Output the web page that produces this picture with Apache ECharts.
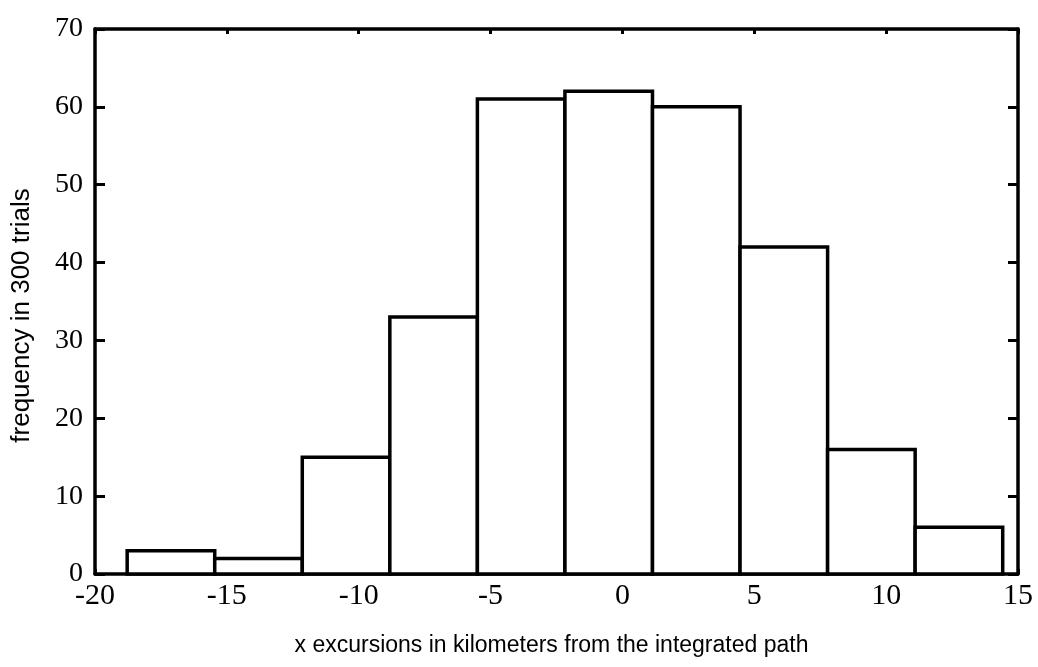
<!DOCTYPE html>
<html><head><meta charset="utf-8">
<script src="https://cdn.jsdelivr.net/npm/echarts@6/dist/echarts.min.js"></script>
<style>html,body{margin:0;padding:0;background:#fff}#c{width:1038px;height:667px}</style>
</head><body><div id="c"></div>
<script>
// histogram bin edges (km) and counts
const binStart = [-18.78, -15.46, -12.14, -8.82, -5.50, -2.18, 1.14, 4.46, 7.78, 11.10];
const binEnd   = [-15.46, -12.14, -8.82, -5.50, -2.18, 1.14, 4.46, 7.78, 11.10, 14.42];
const counts   = [3, 2, 15, 33, 61, 62, 60, 42, 16, 6];
const xTickValues = [-20, -15, -10, -5, 0, 5, 10, 15];
const yTickValues = [0, 10, 20, 30, 40, 50, 60, 70];
const xTitle = 'x excursions in kilometers from the integrated path';
const yTitle = 'frequency in 300 trials';

const data = binStart.map((s, i) => [s, binEnd[i], counts[i]]);
const chart = echarts.init(document.getElementById('c'), null, {renderer: 'canvas'});
const axisLine = {show: true, onZero: false, lineStyle: {color: '#000', width: 3.5}};
const serif = '"Liberation Serif", "DejaVu Serif", serif';
const sans = '"Liberation Sans", Arial, sans-serif';
chart.setOption({
  animation: false,
  backgroundColor: '#fff',
  grid: {left: 95, right: 20, top: 29, bottom: 93, containLabel: false},
  xAxis: [{
    type: 'value', min: xTickValues[0], max: xTickValues[xTickValues.length - 1], interval: 5,
    position: 'bottom', axisLine,
    axisTick: {show: true, inside: true, length: 5, lineStyle: {color: '#000', width: 3}},
    axisLabel: {color: '#000', fontFamily: serif, fontSize: 30, margin: 7,
      formatter: v => String(v)},
    splitLine: {show: false},
    name: xTitle, nameLocation: 'middle', nameGap: 60,
    nameTextStyle: {color: '#000', fontFamily: sans, fontSize: 23, padding: [0, 10, 0, 0]}
  }, {
    type: 'value', min: xTickValues[0], max: xTickValues[xTickValues.length - 1], interval: 5,
    position: 'top', axisLine,
    axisTick: {show: true, inside: true, length: 5, lineStyle: {color: '#000', width: 3}},
    axisLabel: {show: false}, splitLine: {show: false}
  }],
  yAxis: [{
    type: 'value', min: yTickValues[0], max: yTickValues[yTickValues.length - 1], interval: 10,
    position: 'left', axisLine,
    axisTick: {show: true, inside: true, length: 10, lineStyle: {color: '#000', width: 3}},
    axisLabel: {color: '#000', fontFamily: serif, fontSize: 28, margin: 12},
    splitLine: {show: false},
    name: yTitle, nameLocation: 'middle', nameGap: 60, nameRotate: 90,
    nameTextStyle: {color: '#000', fontFamily: sans, fontSize: 26, padding: [0, 28, 0, 0]}
  }, {
    type: 'value', min: yTickValues[0], max: yTickValues[yTickValues.length - 1], interval: 10,
    position: 'right', axisLine,
    axisTick: {show: true, inside: true, length: 10, lineStyle: {color: '#000', width: 3}},
    axisLabel: {show: false}, splitLine: {show: false}
  }],
  series: [{
    type: 'custom',
    xAxisIndex: 0, yAxisIndex: 0,
    encode: {x: [0, 1], y: 2},
    data: data,
    clip: false,
    renderItem: function (params, api) {
      const p0 = api.coord([api.value(0), api.value(2)]);
      const p1 = api.coord([api.value(1), 0]);
      return {
        type: 'rect',
        shape: {x: p0[0], y: p0[1], width: p1[0] - p0[0], height: p1[1] - p0[1]},
        style: {fill: '#fff', stroke: '#000', lineWidth: 3.5}
      };
    }
  }]
});
</script></body></html>
